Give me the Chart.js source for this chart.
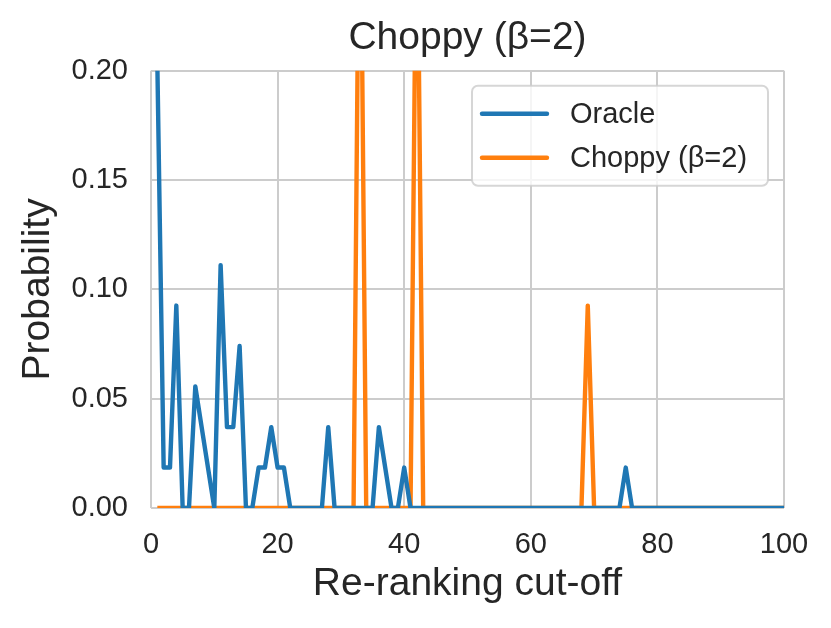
<!DOCTYPE html>
<html>
<head>
<meta charset="utf-8">
<script src="https://cdn.jsdelivr.net/npm/chart.js@4.4.0/dist/chart.umd.min.js"></script>
<style>
  html, body { margin: 0; padding: 0; background: #fff; }
  #wrap { width: 831px; height: 628px; position: relative; }
</style>
</head>
<body>
<div id="wrap"><canvas id="chartChoppy"></canvas></div>
<script>
// re-ranking cut-off (x) values
const cutoffs = [
    1, 2, 3, 4, 5, 6, 7, 8, 9, 10,
    11, 12, 13, 14, 15, 16, 17, 18, 19, 20,
    21, 22, 23, 24, 25, 26, 27, 28, 29, 30,
    31, 32, 33, 34, 35, 36, 37, 38, 39, 40,
    41, 42, 43, 44, 45, 46, 47, 48, 49, 50,
    51, 52, 53, 54, 55, 56, 57, 58, 59, 60,
    61, 62, 63, 64, 65, 66, 67, 68, 69, 70,
    71, 72, 73, 74, 75, 76, 77, 78, 79, 80,
    81, 82, 83, 84, 85, 86, 87, 88, 89, 90,
    91, 92, 93, 94, 95, 96, 97, 98, 99, 100
];

// Oracle probability per cut-off
const oracle = [
    0.2037, 0.0185, 0.0185, 0.0926, 0, 0, 0.0556, 0.0370, 0.0185, 0,
    0.1111, 0.0370, 0.0370, 0.0741, 0, 0, 0.0185, 0.0185, 0.0370, 0.0185,
    0.0185, 0, 0, 0, 0, 0, 0, 0.0370, 0, 0,
    0, 0, 0, 0, 0, 0.0370, 0.0185, 0, 0, 0.0185,
    0, 0, 0, 0, 0, 0, 0, 0, 0, 0,
    0, 0, 0, 0, 0, 0, 0, 0, 0, 0,
    0, 0, 0, 0, 0, 0, 0, 0, 0, 0,
    0, 0, 0, 0, 0.0185, 0, 0, 0, 0, 0,
    0, 0, 0, 0, 0, 0, 0, 0, 0, 0,
    0, 0, 0, 0, 0, 0, 0, 0, 0, 0
];

// Choppy (beta=2) probability per cut-off
const choppy = [
    0, 0, 0, 0, 0, 0, 0, 0, 0, 0,
    0, 0, 0, 0, 0, 0, 0, 0, 0, 0,
    0, 0, 0, 0, 0, 0, 0, 0, 0, 0,
    0, 0, 0.32, 0, 0, 0, 0, 0, 0, 0,
    0, 0.30, 0, 0, 0, 0, 0, 0, 0, 0,
    0, 0, 0, 0, 0, 0, 0, 0, 0, 0,
    0, 0, 0, 0, 0, 0, 0, 0, 0.0926, 0,
    0, 0, 0, 0, 0, 0, 0, 0, 0, 0,
    0, 0, 0, 0, 0, 0, 0, 0, 0, 0,
    0, 0, 0, 0, 0, 0, 0, 0, 0, 0
];

const xTicks = [0, 20, 40, 60, 80, 100];
const yTicks = [0, 0.05, 0.10, 0.15, 0.20];

const FONT = '"Liberation Sans", Arial, "DejaVu Sans", sans-serif';
const TEXT = '#262626';
const GRID = '#cccccc';

const toPoints = (ys) => cutoffs.map((x, i) => ({ x: x, y: ys[i] }));

// legend drawn inside the plot, top right, with a rounded frame
const boxLegend = {
    id: 'boxLegend',
    afterDatasetsDraw(chart) {
        const ctx = chart.ctx;
        const area = chart.chartArea;
        const sets = chart.data.datasets;
        ctx.save();
        ctx.font = '29px ' + FONT;
        let textW = 0;
        sets.forEach(ds => { textW = Math.max(textW, ctx.measureText(ds.label).width); });
        const lineLen = 65, gap = 23, padL = 10, padR = 13, rowH = 44, padT = 23;
        const w = Math.max(296, padL + lineLen + gap + textW + padR);
        const h = padT * 2 + rowH * (sets.length - 1) + 10;
        const right = area.right - 16;
        const top = area.top + 15;
        const left = right - w;

        ctx.beginPath();
        ctx.roundRect(left, top, w, h, 6);
        ctx.fillStyle = 'rgba(255,255,255,0.8)';
        ctx.fill();
        ctx.lineWidth = 2;
        ctx.strokeStyle = 'rgba(204,204,204,0.8)';
        ctx.stroke();

        sets.forEach((ds, i) => {
            const y = top + padT + 5 + i * rowH;
            ctx.beginPath();
            ctx.moveTo(left + padL, y);
            ctx.lineTo(left + padL + lineLen, y);
            ctx.strokeStyle = ds.borderColor;
            ctx.lineWidth = ds.borderWidth;
            ctx.lineCap = 'round';
            ctx.stroke();
            ctx.fillStyle = TEXT;
            ctx.textBaseline = 'middle';
            ctx.textAlign = 'left';
            ctx.fillText(ds.label, left + padL + lineLen + gap, y + 1);
        });
        ctx.restore();
    }
};

document.addEventListener('DOMContentLoaded', () => {
    const ctxChoppy = document.getElementById('chartChoppy');
    new Chart(ctxChoppy, {
        type: 'line',
        data: {
            datasets: [{
                label: 'Oracle',
                data: toPoints(oracle),
                borderColor: '#1f77b4',
                borderWidth: 4.4,
                pointRadius: 0,
                borderJoinStyle: 'round',
                tension: 0
            }, {
                label: 'Choppy (β=2)',
                data: toPoints(choppy),
                borderColor: '#ff7f0e',
                borderWidth: 4.4,
                pointRadius: 0,
                borderJoinStyle: 'round',
                tension: 0
            }]
        },
        options: {
            responsive: true,
            maintainAspectRatio: false,
            animation: false,
            events: [],
            layout: { padding: { left: 0, right: 47, top: 0, bottom: 0 } },
            plugins: {
                legend: { display: false },
                tooltip: { enabled: false },
                title: {
                    display: true,
                    fullSize: false,
                    text: 'Choppy (β=2)',
                    color: TEXT,
                    font: { family: FONT, size: 39, weight: 'normal' },
                    padding: { top: 15, bottom: 9 }
                }
            },
            scales: {
                x: {
                    type: 'linear',
                    min: 0,
                    max: 100,
                    afterFit: (scale) => { scale.height = 120; },
                    afterBuildTicks: (scale) => { scale.ticks = xTicks.map(v => ({ value: v })); },
                    ticks: {
                        color: TEXT,
                        font: { family: FONT, size: 29 },
                        padding: 20,
                        maxRotation: 0,
                        callback: (v) => String(v)
                    },
                    grid: { color: GRID, lineWidth: 2, drawTicks: false },
                    border: { display: false },
                    title: {
                        display: true,
                        text: 'Re-ranking cut-off',
                        color: TEXT,
                        font: { family: FONT, size: 39 },
                        padding: { top: 0, bottom: 20 }
                    }
                },
                y: {
                    min: 0,
                    max: 0.2,
                    afterFit: (scale) => { scale.width = 151; },
                    afterBuildTicks: (scale) => { scale.ticks = yTicks.map(v => ({ value: v })); },
                    ticks: {
                        color: TEXT,
                        font: { family: FONT, size: 29 },
                        padding: 23,
                        callback: (v) => v.toFixed(2)
                    },
                    grid: { color: GRID, lineWidth: 2, drawTicks: false },
                    border: { display: false },
                    title: {
                        display: true,
                        text: 'Probability',
                        color: TEXT,
                        font: { family: FONT, size: 39 },
                        padding: { top: 15, bottom: 0 }
                    }
                }
            }
        },
        plugins: [boxLegend]
    });
});
</script>
</body>
</html>
